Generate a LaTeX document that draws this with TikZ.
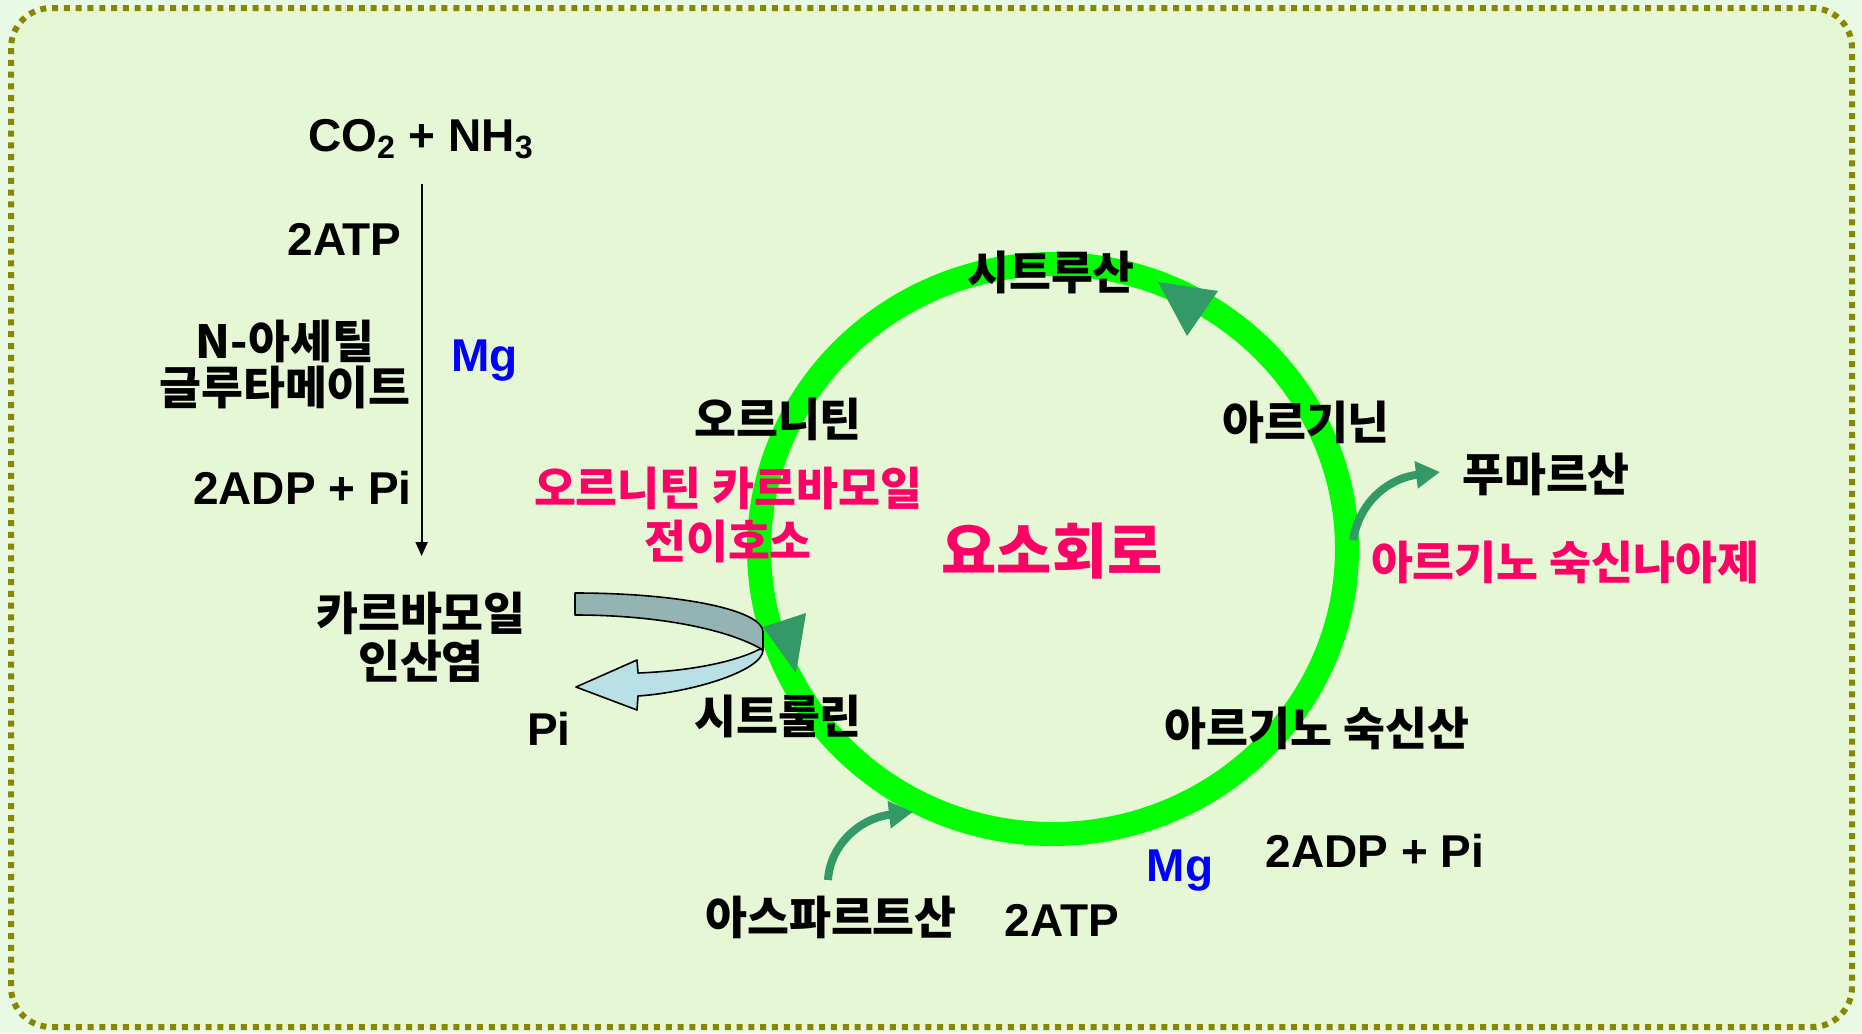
\documentclass[tikz,border=0pt]{standalone}
\usepackage{fontspec}
\setmainfont{Liberation Sans}
\newfontfamily\kr{Noto Sans CJK KR}
\usetikzlibrary{arrows.meta}
\definecolor{bgout}{RGB}{232,249,228}
\definecolor{bgin}{RGB}{229,247,212}
\definecolor{olivebd}{RGB}{136,136,0}
\definecolor{ringc}{RGB}{0,255,0}
\definecolor{dkgreen}{RGB}{51,153,102}
\definecolor{pinkk}{RGB}{255,0,102}
\definecolor{greyband}{RGB}{148,180,180}
\definecolor{blueband}{RGB}{185,224,230}
\tikzset{
  lat/.style={inner sep=0pt, font={\bfseries\fontsize{23}{26}\selectfont}},
  kor/.style={inner sep=0pt, font={\kr\bfseries\fontsize{22.8}{25}\selectfont}},
  korbig/.style={inner sep=0pt, font={\kr\bfseries\fontsize{30}{33}\selectfont}},
  mgc/.style={lat, text=blue},
  pinktxt/.style={kor, text=pinkk},
  sidearrow/.style={dkgreen, line width=4pt, -{Triangle[length=12pt,width=13pt]}},
  ringhead/.style={fill=dkgreen},
}
\begin{document}
\begin{tikzpicture}[x=0.5pt,y=-0.5pt]
\useasboundingbox (0,0) rectangle (1862,1033);
\fill[bgout] (0,0) rectangle (1862,1033);
\draw[olivebd, line width=3pt, dash pattern=on 3pt off 2.9pt, fill=bgin, rounded corners=20pt] (11,8) rectangle (1852,1027);

% urea cycle ring
\draw[ringc, line width=12pt] (1053,549) ellipse[x radius=294, y radius=285];
\fill[ringhead] (1158,282) -- (1218,291) -- (1187,336) -- cycle;
\fill[ringhead] (796,673) -- (763,627) -- (806,613) -- cycle;

% side arrows
\coordinate (fstart) at (1353,540);
\coordinate (fend) at (1440,472);
\draw[sidearrow] (fstart) .. controls (1360,500) and (1390,478) .. (fend);
\coordinate (astart) at (828,880);
\coordinate (aend) at (913,812);
\draw[sidearrow] (astart) .. controls (830,845) and (860,818) .. (aend);

% bent ribbon arrow
\filldraw[fill=blueband, draw=black, line width=0.8pt, line join=round]
  (760,649) .. controls (735,662) and (690,671) .. (638,673) -- (637,660) -- (576,687)
  -- (637,710) -- (638,696) .. controls (695,692) and (763,670) .. (763,650) -- cycle;
\filldraw[fill=greyband, draw=black, line width=0.8pt, line join=round]
  (575,593) .. controls (680,593) and (763,610) .. (763,632) -- (763,650)
  .. controls (730,630) and (660,615) .. (575,615) -- cycle;

% left column
\node[lat, anchor=base] (co2) at (421,151) {CO\textsubscript{2} + NH\textsubscript{3}};
\coordinate (vtop) at (421.6,184);
\coordinate (vbot) at (421.6,556);
\draw[line width=1pt, -{Triangle[length=7pt,width=6pt]}] (vtop) -- (vbot);
\node[lat, anchor=east] (atp1) at (402,239) {2ATP};
\node[kor] (nac1) at (285,341) {N-아세틸};
\node[kor] (nac2) at (285,387) {글루타메이트};
\node[mgc, anchor=base west] (mg1) at (451,371) {Mg};
\node[lat, anchor=east] (adp1) at (412,488) {2ADP + Pi};
\node[kor] (cp1) at (421,613) {카르바모일};
\node[kor] (cp2) at (421,661) {인산염};
\node[lat] (pi1) at (549,729) {Pi};

% cycle labels
\node[kor] (orn) at (778,419) {오르니틴};
\node[pinktxt] (otc1) at (728,488) {오르니틴 카르바모일};
\node[pinktxt] (otc2) at (728,541) {전이호소};
\node[korbig, text=pinkk] (urea) at (1052,551) {요소회로};
\node[kor] (cit) at (1051,272) {시트루산};
\node[kor] (arg) at (1306,422) {아르기닌};
\node[kor] (fum) at (1546,474) {푸마르산};
\node[pinktxt] (asl) at (1565,562) {아르기노 숙신나아제};
\node[kor] (asa) at (1317,728) {아르기노 숙신산};
\node[lat] (adp2) at (1375,851) {2ADP + Pi};
\node[mgc, anchor=base] (mg2) at (1180,881) {Mg};
\node[lat] (atp2) at (1062,920) {2ATP};
\node[kor] (asp) at (831,917) {아스파르트산};
\node[kor] (citr) at (778,716) {시트룰린};
\end{tikzpicture}
\end{document}
